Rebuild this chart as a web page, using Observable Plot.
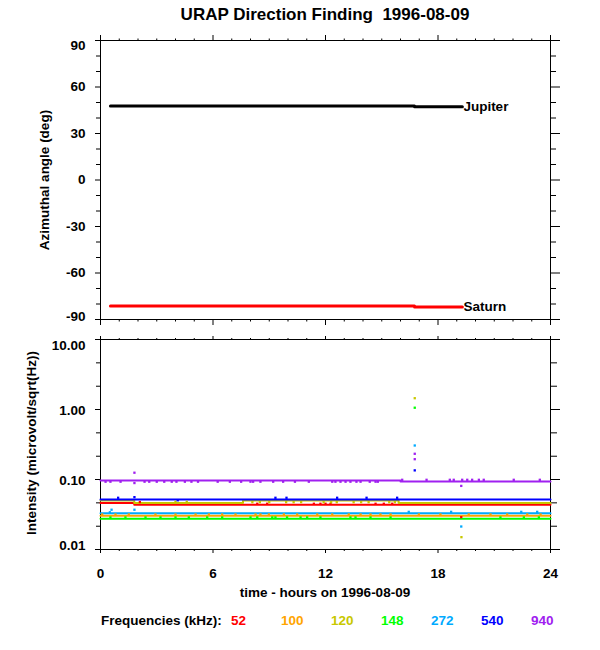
<!DOCTYPE html>
<html><head><meta charset="utf-8">
<script src="https://cdn.jsdelivr.net/npm/d3@7"></script>
<script src="https://cdn.jsdelivr.net/npm/@observablehq/plot@0.6"></script>
<style>
body{margin:0;background:#fff;}
#wrap{position:relative;width:600px;height:650px;font-family:"Liberation Sans",Arial,Helvetica,sans-serif;color:#000;overflow:hidden;}
.abs{position:absolute;white-space:pre;line-height:1;font-weight:bold;}
</style></head><body><div id="wrap"></div>
<script>
// ---------- text ----------
const chartTitle = "URAP Direction Finding  1996-08-09";
const azLabel = "Azimuthal angle (deg)";
const intLabel = "Intensity (microvolt/sqrt(Hz))";
const timeLabel = "time - hours on 1996-08-09";
const legendTitle = "Frequencies (kHz):";

// ---------- ticks ----------
const hourMajor = [0, 6, 12, 18, 24];
const hourMinor = [1,2,3,4,5,7,8,9,10,11,13,14,15,16,17,19,20,21,22,23];
const azMajor = [-90, -60, -30, 0, 30, 60, 90];
const azMinor = [-80,-70,-50,-40,-20,-10,10,20,40,50,70,80];
const intMajor = [0.01, 0.1, 1, 10];
const intMinor = [0.0215, 0.0464, 0.215, 0.464, 2.15, 4.64];

// ---------- top panel: azimuth of planets ----------
const planetNames = ["Jupiter", "Saturn"];
const planetColors = ["#000000", "#ff0000"];
const jupiterHour = [0.53, 16.75, 19.3];
const jupiterAz = [47.7, 47.2, 47.2];
const saturnHour = [0.53, 16.75, 19.3];
const saturnAz = [-81.3, -81.9, -81.9];

// ---------- bottom panel: intensity per frequency ----------
const freqs = ["52", "100", "120", "148", "272", "540", "940"];
const freqColors = ["#ff0000", "#ffa500", "#c8c800", "#00ff00", "#00aaff", "#0000ff", "#a020f0"];

// baseline levels (step-after)
const lvl52Hour = [0, 1.8, 24];            const lvl52 = [0.046, 0.0435, 0.0435];
const lvl100Hour = [0, 24];                const lvl100 = [0.0303, 0.0303];
const lvl120Hour = [0, 1.8, 7.6, 15.9, 24]; const lvl120 = [0.050, 0.046, 0.050, 0.046, 0.046];
const lvl148Hour = [0, 24];                const lvl148 = [0.0275, 0.0275];
const lvl272Hour = [0, 24];                const lvl272 = [0.033, 0.033];
const lvl540Hour = [0, 24];                const lvl540 = [0.052, 0.052];
const lvl940Hour = [0, 16, 24];            const lvl940 = [0.097, 0.094, 0.094];

// scattered samples off the baseline
const sp52Hour = [2.1, 8.36, 8.89, 11.38, 11.73, 12.0, 12.27, 14.67, 15.11, 15.56, 19.24];
const sp52 = [0.0476, 0.045, 0.045, 0.045, 0.045, 0.045, 0.045, 0.045, 0.045, 0.045, 0.029];
const sp100Hour = [0.09, 0.8, 1.51, 2.93, 4.0, 5.07, 5.78, 6.49, 7.2, 8.27, 8.53, 8.98, 9.78, 10.49, 11.56, 12.36, 13.24, 13.87, 14.4, 14.93, 15.47, 16.98, 18.13, 19.64, 20.8, 21.69, 22.76, 23.47];
const sp100 = [0.0316, 0.0316, 0.0316, 0.0316, 0.0316, 0.0316, 0.0316, 0.0316, 0.0316, 0.0316, 0.0316, 0.0316, 0.0316, 0.0316, 0.0316, 0.0316, 0.0316, 0.0316, 0.0316, 0.0316, 0.0316, 0.0316, 0.0316, 0.0316, 0.0316, 0.0316, 0.0316, 0.0316];
const sp120Hour = [8.1, 8.5, 9.0, 9.9, 10.3, 10.7, 11.9, 12.3, 12.6, 13.5, 13.9, 14.3, 15.4, 15.7, 4.0, 4.6, 16.76, 19.25];
const sp120 = [0.0474, 0.0474, 0.0474, 0.0474, 0.0474, 0.0474, 0.0474, 0.0474, 0.0474, 0.0474, 0.0474, 0.0474, 0.0474, 0.0474, 0.048, 0.048, 1.45, 0.015];
const sp148Hour = [0.53, 1.33, 2.4, 3.2, 4.0, 4.71, 5.69, 6.49, 8.0, 8.36, 9.16, 9.33, 9.95, 10.67, 11.02, 11.73, 13.33, 13.6, 14.4, 15.47, 21.33, 22.58, 23.38, 16.76];
const sp148 = [0.0287, 0.0287, 0.0287, 0.0287, 0.0287, 0.0287, 0.0287, 0.0287, 0.0287, 0.0287, 0.0287, 0.0287, 0.0287, 0.0287, 0.0287, 0.0287, 0.0287, 0.0287, 0.0287, 0.0287, 0.0287, 0.0287, 0.0287, 1.06];
const sp272Hour = [0.5, 0.59, 1.81, 16.44, 18.7, 22.44, 23.29, 16.76, 19.24];
const sp272 = [0.034, 0.037, 0.037, 0.0345, 0.0345, 0.0345, 0.0345, 0.306, 0.0213];
const sp540Hour = [0.94, 1.81, 9.33, 9.92, 12.62, 14.19, 15.82, 4.12, 16.76];
const sp540 = [0.0548, 0.056, 0.0548, 0.0548, 0.0548, 0.0548, 0.0548, 0.0505, 0.135];
const sp940Hour = [0.27, 0.53, 1.07, 2.35, 2.6, 3.0, 3.4, 3.8, 4.05, 4.5, 4.85, 5.2, 6.25, 6.9, 7.5, 8.0, 8.14, 8.53, 9.21, 9.74, 10.37, 11.11, 12.36, 12.53, 12.8, 13.07, 13.33, 13.65, 13.87, 14.36, 14.67, 14.79,
  16.09, 17.39, 18.63, 18.84, 19.29, 19.56, 19.82, 20.18, 20.44, 22.04, 23.43,
  1.81, 1.81, 16.76, 16.76, 19.24];
const sp940 = [0.093, 0.093, 0.093, 0.093, 0.093, 0.093, 0.093, 0.093, 0.093, 0.093, 0.093, 0.093, 0.093, 0.093, 0.093, 0.093, 0.093, 0.093, 0.093, 0.093, 0.093, 0.093, 0.093, 0.093, 0.093, 0.093, 0.093, 0.093, 0.093, 0.093, 0.093, 0.093,
  0.099, 0.099, 0.099, 0.099, 0.099, 0.099, 0.099, 0.099, 0.099, 0.099, 0.099,
  0.125, 0.089, 0.233, 0.195, 0.081];

// ---------- build tables ----------
const zip = (xs, ys, extra) => xs.map((x, i) => ({x, y: ys[i], ...extra}));
const planetSeries = [
  zip(jupiterHour, jupiterAz, {name: planetNames[0], color: planetColors[0]}),
  zip(saturnHour, saturnAz, {name: planetNames[1], color: planetColors[1]})
];
const levelSeries = [
  zip(lvl52Hour, lvl52), zip(lvl100Hour, lvl100), zip(lvl120Hour, lvl120), zip(lvl148Hour, lvl148),
  zip(lvl272Hour, lvl272), zip(lvl540Hour, lvl540), zip(lvl940Hour, lvl940)
];
const speckSeries = [
  zip(sp52Hour, sp52), zip(sp100Hour, sp100), zip(sp120Hour, sp120), zip(sp148Hour, sp148),
  zip(sp272Hour, sp272), zip(sp540Hour, sp540), zip(sp940Hour, sp940)
];

const FONT = '"Liberation Sans", Arial, Helvetica, sans-serif';
const wrap = document.getElementById("wrap");

// ---------- top panel ----------
const azFirst = azMajor[0], azLast = azMajor[azMajor.length - 1];
const topMarks = [
  Plot.axisY({anchor: "left", ticks: azMajor, tickSize: 5, fill: "none", label: null}),
  Plot.axisY({anchor: "left", ticks: azMajor.slice(1, -1), tickSize: 0, tickPadding: 15, tickFormat: d => String(d), label: null}),
  Plot.axisY({anchor: "left", ticks: [azLast], tickSize: 0, tickPadding: 15, dy: 5, tickFormat: d => String(d), label: null}),
  Plot.axisY({anchor: "left", ticks: [azFirst], tickSize: 0, tickPadding: 15, dy: -3, tickFormat: d => String(d), label: null}),
  Plot.axisY({anchor: "left", ticks: azMinor, tickSize: 4, fill: "none", label: null}),
  Plot.axisY({anchor: "right", ticks: azMajor, tickSize: 9, fill: "none", label: null}),
  Plot.axisY({anchor: "right", ticks: azMinor, tickSize: 5, fill: "none", label: null}),
  Plot.axisX({anchor: "top", ticks: hourMajor, tickSize: 6, fill: "none", label: null}),
  Plot.axisX({anchor: "top", ticks: hourMinor, tickSize: 2.5, fill: "none", label: null}),
  Plot.axisX({anchor: "bottom", ticks: hourMajor, tickSize: 6, fill: "none", label: null}),
  Plot.axisX({anchor: "bottom", ticks: hourMinor, tickSize: 2.5, fill: "none", label: null}),
  Plot.frame({stroke: "black"})
];
planetSeries.forEach(s => {
  topMarks.push(Plot.line(s, {x: "x", y: "y", curve: "step-after", stroke: s[0].color, strokeWidth: 3}));
  topMarks.push(Plot.text([s[s.length - 1]], {x: "x", y: "y", text: "name", textAnchor: "start", dx: 1, fill: "black"}));
});
const p1 = Plot.plot({
  width: 600, height: 330, marginLeft: 100, marginRight: 50, marginTop: 40, marginBottom: 11,
  style: {fontFamily: FONT, fontSize: "13.5px", fontWeight: "bold", background: "white", overflow: "visible", color: "black"},
  x: {domain: [0, 24]},
  y: {domain: [-90, 90]},
  marks: topMarks
});
p1.style.position = "absolute"; p1.style.left = "0px"; p1.style.top = "0px";
wrap.appendChild(p1);

// ---------- bottom panel ----------
const fmt2 = d3.format(".2f");
const intLabelDy = [-4, 1, 1, 6];
const botMarks = [
  Plot.axisY({anchor: "left", ticks: intMajor, tickSize: 5, fill: "none", label: null}),
  ...intMajor.map((t, i) => Plot.axisY({anchor: "left", ticks: [t], tickSize: 0, tickPadding: 15, dy: intLabelDy[i], tickFormat: d => fmt2(d), label: null})),
  Plot.axisY({anchor: "left", ticks: intMinor, tickSize: 4, fill: "none", label: null}),
  Plot.axisY({anchor: "right", ticks: intMajor, tickSize: 9, fill: "none", label: null}),
  Plot.axisY({anchor: "right", ticks: intMinor, tickSize: 6, fill: "none", label: null}),
  Plot.axisX({anchor: "top", ticks: hourMajor, tickSize: 4, fill: "none", label: null}),
  Plot.axisX({anchor: "top", ticks: hourMinor, tickSize: 2, fill: "none", label: null}),
  Plot.axisX({anchor: "bottom", ticks: hourMajor, tickSize: 4, tickPadding: 15, tickFormat: d => String(d), label: null}),
  Plot.axisX({anchor: "bottom", ticks: hourMinor, tickSize: 2, fill: "none", label: null}),
  Plot.frame({stroke: "black"})
];
levelSeries.forEach((s, i) => {
  botMarks.push(Plot.line(s, {x: "x", y: "y", curve: "step-after", stroke: freqColors[i], strokeWidth: 2}));
});
speckSeries.forEach((s, i) => {
  botMarks.push(Plot.dot(s, {x: "x", y: "y", symbol: "square", r: 1.3, fill: freqColors[i], stroke: "none"}));
});
const p2 = Plot.plot({
  width: 600, height: 270, marginLeft: 100, marginRight: 50, marginTop: 9, marginBottom: 51,
  style: {fontFamily: FONT, fontSize: "13.5px", fontWeight: "bold", background: "transparent", overflow: "visible", color: "black"},
  x: {domain: [0, 24]},
  y: {type: "log", domain: [0.01, 10]},
  marks: botMarks
});
p2.style.position = "absolute"; p2.style.left = "0px"; p2.style.top = "330px";
wrap.appendChild(p2);

// ---------- texts ----------
function addText(txt, css) {
  const d = document.createElement("div");
  d.className = "abs";
  d.textContent = txt;
  Object.assign(d.style, css);
  wrap.appendChild(d);
  return d;
}
addText(chartTitle, {left: "100px", width: "450px", textAlign: "center", top: "6px", fontSize: "17px"});
addText(azLabel, {left: "45px", top: "180px", fontSize: "13.5px", transform: "translate(-50%,-50%) rotate(-90deg)"});
addText(intLabel, {left: "32px", top: "443px", fontSize: "13.5px", transform: "translate(-50%,-50%) rotate(-90deg)"});
addText(timeLabel, {left: "100px", width: "450px", textAlign: "center", top: "586px", fontSize: "13.5px"});
addText(legendTitle, {left: "101px", top: "614px", fontSize: "13.5px"});
freqs.forEach((f, i) => {
  addText(f, {left: (231 + 50 * i) + "px", top: "614px", fontSize: "13.5px", color: freqColors[i]});
});
</script>
</body></html>
